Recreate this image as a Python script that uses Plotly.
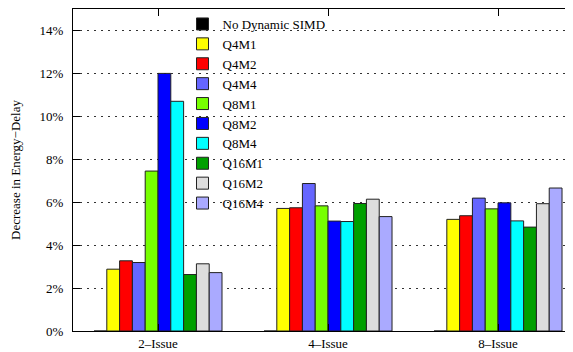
import plotly.graph_objects as go

categories = ["2\u2013Issue", "4\u2013Issue", "8\u2013Issue"]
series_names = ["No Dynamic SIMD", "Q4M1", "Q4M2", "Q4M4", "Q8M1", "Q8M2", "Q8M4",
                "Q16M1", "Q16M2", "Q16M4"]
no_dynamic = [0, 0, 0]
q4m1 = [2.88, 5.71, 5.20]
q4m2 = [3.27, 5.74, 5.37]
q4m4 = [3.19, 6.87, 6.19]
q8m1 = [7.45, 5.83, 5.69]
q8m2 = [12.0, 5.12, 5.97]
q8m4 = [10.7, 5.10, 5.13]
q16m1 = [2.63, 5.94, 4.84]
q16m2 = [3.13, 6.14, 5.93]
q16m4 = [2.72, 5.33, 6.66]
series_values = [no_dynamic, q4m1, q4m2, q4m4, q8m1, q8m2, q8m4, q16m1, q16m2, q16m4]
colors = ["#000000", "#ffff00", "#ff0000", "#6666ff", "#77ff00", "#0000ff", "#00ffff",
          "#00a000", "#dddddd", "#aaaaff"]
y_ticks = [0, 2, 4, 6, 8, 10, 12, 14]
y_tick_labels = [f"{v}%" for v in y_ticks]

serif = "Liberation Serif, Times New Roman, serif"

fig = go.Figure()
for name, vals, col in zip(series_names, series_values, colors):
    fig.add_trace(go.Bar(
        x=categories, y=vals, name=name,
        marker=dict(color=col, line=dict(color="#222222", width=1)),
    ))

# the page body has an 8px margin, so the figure is sized to fit the window
fig.update_layout(
    width=565, height=344,
    margin=dict(l=65, r=0, t=1, b=21, autoexpand=False),
    paper_bgcolor="white", plot_bgcolor="white",
    barmode="group", bargap=0.247, bargroupgap=0,
    font=dict(family=serif, size=13, color="black"),
    showlegend=True,
    legend=dict(
        x=0.219, y=1.0, xanchor="left", yanchor="top",
        bgcolor="rgba(0,0,0,0)", borderwidth=0,
        font=dict(family=serif, size=13, color="black"),
        tracegroupgap=0, itemwidth=30,
    ),
    xaxis=dict(
        type="category", range=[-0.5, 2.441],
        showline=True, linecolor="black", linewidth=1, mirror="ticks",
        ticks="inside", ticklen=7, tickcolor="black",
        showgrid=False, tickfont=dict(family=serif, size=13),
    ),
    yaxis=dict(
        range=[0, 15], tickvals=y_ticks, ticktext=y_tick_labels,
        showline=True, linecolor="black", linewidth=1,
        ticks="inside", ticklen=7, tickcolor="black",
        showgrid=True, gridcolor="#333333", gridwidth=1, griddash="2px,5px",
        zeroline=False, ticklabelstandoff=6,
        title=dict(text="Decrease in Energy\u2212Delay", font=dict(family=serif, size=13), standoff=16),
        tickfont=dict(family=serif, size=13),
    ),
)

fig.write_html("out.html")
